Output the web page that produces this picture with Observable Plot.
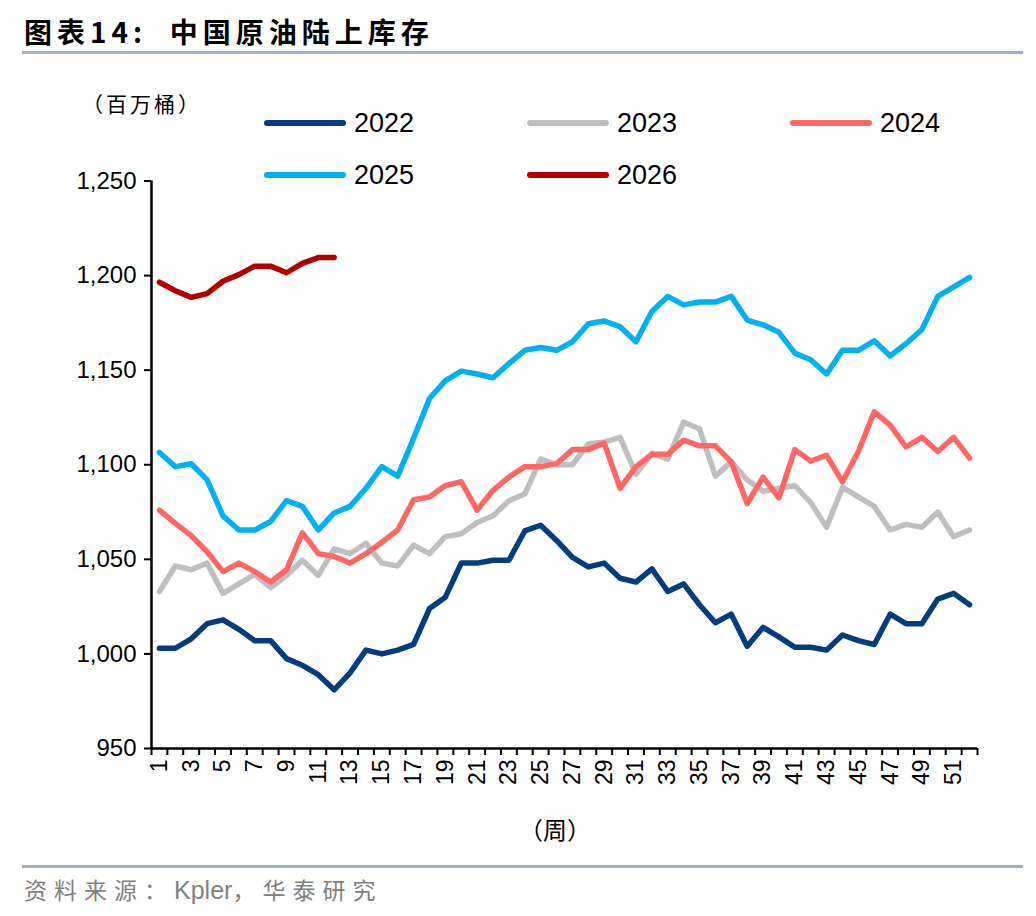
<!DOCTYPE html>
<html>
<head>
<meta charset="utf-8">
<script src="https://cdn.jsdelivr.net/npm/d3@7"></script>
<script src="https://cdn.jsdelivr.net/npm/@observablehq/plot@0.6"></script>
<style>
  body { margin: 0; background: #fff; }
  #root { position: relative; width: 1036px; height: 916px; background: #fff; overflow: hidden;
          font-family: "Liberation Sans", Arial, "Noto Sans CJK SC", sans-serif; }
  .abs { position: absolute; white-space: nowrap; }
  .cjk { font-family: "Noto Sans CJK SC", "Noto Sans CJK TC", sans-serif; }
  .lat { font-family: "Liberation Sans", Arial, sans-serif; letter-spacing: 0; }
  .rule { position: absolute; left: 22px; width: 1001px; height: 3px; background: #9DB0C8; }
  #chart { position: absolute; left: 0; top: 150px; }
  .leg { position: absolute; height: 28px; display: flex; align-items: center; }
  .leg .sw { width: 82px; height: 6px; border-radius: 3px; margin-right: 8px; }
  .leg .lb { font-size: 27px; color: #000; font-family: "Liberation Sans", Arial, sans-serif; }
</style>
</head>
<body>
<div id="root">
  <div class="abs cjk" style="left:24px; top:11px; font-size:28px; font-weight:700; letter-spacing:5px; color:#000;">图表14:&nbsp;&nbsp;中国原油陆上库存</div>
  <div class="rule" style="top:51px;"></div>
  <div class="abs cjk" style="left:82px; top:88px; font-size:21px; letter-spacing:3px; color:#000;">（百万桶）</div>
  <div id="legend"></div>
  <div id="chart"></div>
  <div class="abs cjk" style="left:519px; top:811px; font-size:24px; color:#000;">（周）</div>
  <div class="rule" style="top:865px;"></div>
  <div class="abs cjk" style="left:24px; top:872px; font-size:23px; letter-spacing:7px; color:#7f7f7f;">资料来源：<span class="lat" style="font-size:25px;">Kpler</span>，华泰研究</div>
</div>
<script>
// ---- data ----
const weeks = d3.range(1, 53);
const years = ["2022", "2023", "2024", "2025", "2026"];
const colors = ["#053C7B", "#BFBFBF", "#FF6666", "#00B0F0", "#B20000"];
const yTicks = [950, 1000, 1050, 1100, 1150, 1200, 1250];
const xLabelWeeks = weeks.filter(w => w % 2 === 1);

const v2022 = [1003,1003,1008,1016,1018,1013,1007,1007,997.5,994,
  989,981,990,1002,1000,1002,1005,1024,1030,1048,
  1048,1049.5,1049.5,1065,1068,1060,1051,1046,1048,1040,
  1038,1045,1033,1037,1026,1016.5,1021,1004,1014,1009,
  1003.5,1003.5,1002,1010,1007,1005,1021,1016,1016,1029,
  1032,1026];
const v2023 = [1033,1046.5,1044.5,1048,1032,1037,1042,1035,1041.5,1049.5,
  1041.5,1055.5,1053,1058.5,1048,1046.5,1057.5,1053,1062,1063.5,
  1069.5,1073,1081,1084.5,1103,1100,1100,1111,1112,1114.5,
  1095,1106,1103,1122.5,1119,1094,1101.5,1092,1086,1087.5,
  1089,1080,1067,1088,1083,1078,1065.5,1068.5,1067,1075,
  1062,1065.5];
const v2024 = [1076,1069,1062.5,1054,1043.5,1048,1043.5,1038,1044.5,1064,
  1053,1051.5,1048,1053,1059,1065.5,1081.5,1083,1089,1091,
  1076,1086.5,1093.5,1099,1099,1100.5,1108,1108,1111.5,1087.5,
  1099,1105.5,1105.5,1113,1110,1110,1101.5,1079.5,1093.5,1082.5,
  1108,1102,1105,1091,1107,1128,1121,1109.5,1114.5,1107,
  1114.5,1103.5];
const v2025 = [1106.5,1099,1100.5,1092,1073,1065.5,1065.5,1070,1081,1078,
  1065.5,1074.5,1078,1087.5,1099,1094,1114,1135,1144.5,1149.5,
  1148,1146,1153.5,1160.5,1162,1160.5,1165,1174.5,1176,1173,
  1165,1181,1189,1184.5,1186,1186,1189,1176.5,1174,1170,
  1159,1155.5,1148,1160.5,1160.5,1165.5,1157.5,1164,1171.5,1189,
  1194,1199];
const v2026 = [1196.5,1192,1188.5,1190.5,1197,1200.5,1205,1205,1201.5,1206.5,1209.5,1209.5];

const seriesValues = [v2022, v2023, v2024, v2025, v2026];
const rows = [];
years.forEach((yr, i) => seriesValues[i].forEach((v, j) => rows.push({year: yr, week: weeks[j], value: v})));
const boundaries = weeks.map(w => w - 0.5).concat([weeks[weeks.length - 1] + 0.5]);

// ---- legend ----
const legendPos = [[264,109],[527,109],[790,109],[264,161],[527,161]];
const legend = document.getElementById("legend");
years.forEach((yr, i) => {
  const d = document.createElement("div");
  d.className = "leg";
  d.style.left = legendPos[i][0] + "px";
  d.style.top = legendPos[i][1] + "px";
  d.innerHTML = `<div class="sw" style="background:${colors[i]}"></div><div class="lb">${yr}</div>`;
  legend.appendChild(d);
});

// ---- chart ----
const chart = Plot.plot({
  width: 1036,
  height: 700,
  marginLeft: 151,
  marginRight: 59,
  marginTop: 30.5,
  marginBottom: 102,
  style: {fontFamily: '"Liberation Sans", Arial, sans-serif', color: "#000", background: "transparent", overflow: "visible"},
  x: {type: "linear", domain: [0.5, 52.5]},
  y: {domain: [950, 1250]},
  color: {domain: years, range: colors},
  marks: [
    Plot.axisY({ticks: yTicks, tickFormat: d3.format(","), tickSize: 7, tickPadding: 8, label: null}),
    Plot.axisX({ticks: boundaries, tickFormat: () => "", tickSize: 7, label: null}),
    Plot.axisX({ticks: xLabelWeeks, tickFormat: d => String(d), tickSize: 0, tickPadding: 11, tickRotate: -90, label: null}),
    Plot.line(rows, {x: "week", y: "value", z: "year", stroke: "year", strokeWidth: 5.5, strokeLinejoin: "round", strokeLinecap: "round"}),
    Plot.ruleX([0.5], {stroke: "#000", strokeWidth: 2.5}),
    Plot.ruleY([950], {stroke: "#000", strokeWidth: 2.5})
  ]
});
document.getElementById("chart").appendChild(chart);

// per-axis text styling
d3.select(chart).selectAll('g[aria-label="y-axis tick label"] text').attr("font-size", 24);
d3.select(chart).selectAll('g[aria-label="x-axis tick label"] text').attr("font-size", 23);
d3.select(chart).selectAll('g[aria-label="y-axis tick"], g[aria-label="x-axis tick"]').attr("stroke-width", 2).attr("stroke", "#000");
</script>
</body>
</html>
